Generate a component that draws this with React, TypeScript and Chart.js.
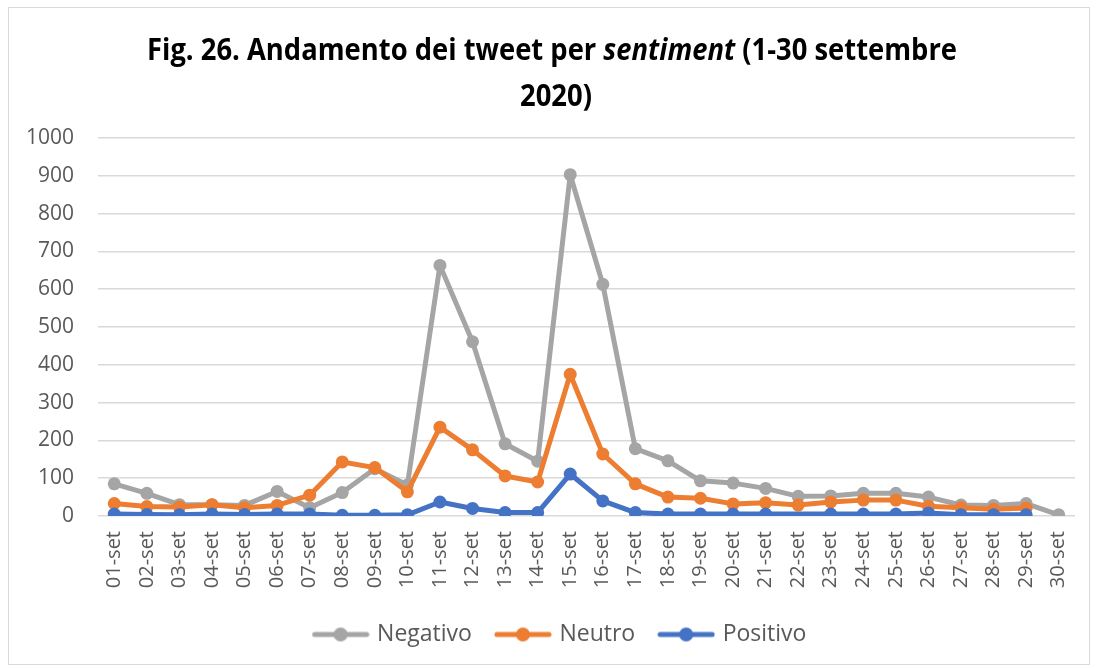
import React, { useEffect, useRef } from 'react';
import { Chart, registerables } from 'chart.js';

Chart.register(...registerables);

const categories = [
  '01-set', '02-set', '03-set', '04-set', '05-set', '06-set', '07-set', '08-set', '09-set', '10-set',
  '11-set', '12-set', '13-set', '14-set', '15-set', '16-set', '17-set', '18-set', '19-set', '20-set',
  '21-set', '22-set', '23-set', '24-set', '25-set', '26-set', '27-set', '28-set', '29-set', '30-set',
];

const negativo = [85, 60, 30, 30, 28, 65, 22, 62, 125, 82, 663, 461, 191, 145, 903, 613, 178, 146, 93, 87, 73, 52, 53, 60, 60, 50, 29, 28, 33, 3];
const neutro = [33, 25, 24, 30, 22, 28, 55, 143, 128, 64, 235, 175, 106, 90, 375, 164, 85, 50, 47, 32, 35, 29, 37, 42, 42, 26, 22, 18, 21, null];
const positivo = [5, 4, 3, 5, 4, 5, 5, 2, 2, 3, 37, 20, 9, 9, 111, 40, 9, 5, 5, 5, 5, null, 5, 5, 5, 8, 3, 3, 3, null];

const seriesNames = ['Negativo', 'Neutro', 'Positivo'];
const seriesColors = ['#A5A5A5', '#ED7D31', '#4472C4'];

const yTicks = { min: 0, max: 1000, step: 100 };

const FONT = "'Open Sans', 'Liberation Sans', sans-serif";
const TITLE_FONT = "'Liberation Sans Narrow', 'Open Sans', sans-serif";

function makeLegendIcon(color: string) {
  const c = document.createElement('canvas');
  c.width = 58;
  c.height = 16;
  const ctx = c.getContext('2d')!;
  ctx.strokeStyle = color;
  ctx.lineWidth = 5;
  ctx.lineCap = 'round';
  ctx.beginPath();
  ctx.moveTo(3, 8);
  ctx.lineTo(55, 8);
  ctx.stroke();
  ctx.fillStyle = color;
  ctx.beginPath();
  ctx.arc(29, 8, 7, 0, Math.PI * 2);
  ctx.fill();
  return c;
}

const legendShiftPlugin = {
  id: 'legendShift',
  afterLayout(chart: any) {
    if (chart.legend) {
      chart.legend.left += 19;
      chart.legend.right += 19;
    }
  },
};

const titlePlugin = {
  id: 'mixedTitle',
  afterDraw(chart: any) {
    const ctx = chart.ctx as CanvasRenderingContext2D;
    const size = 30;
    const bold = `bold ${size}px ${TITLE_FONT}`;
    const boldItalic = `italic bold ${size}px ${TITLE_FONT}`;
    const segs: [string, string][] = [
      ['Fig. 26. Andamento dei tweet per ', bold],
      ['sentiment', boldItalic],
      [' (1-30 settembre', bold],
    ];
    ctx.save();
    ctx.fillStyle = '#000000';
    ctx.textBaseline = 'alphabetic';
    ctx.textAlign = 'left';
    let total = 0;
    const widths = segs.map(([t, f]) => {
      ctx.font = f;
      const w = ctx.measureText(t).width;
      total += w;
      return w;
    });
    const s = Math.min(1, 810 / total);
    ctx.translate(543, 52);
    ctx.scale(s, 1);
    let x = -total / 2;
    segs.forEach(([t, f], i) => {
      ctx.font = f;
      ctx.fillText(t, x, 0);
      x += widths[i];
    });
    ctx.restore();
    ctx.save();
    ctx.fillStyle = '#000000';
    ctx.font = bold;
    ctx.textAlign = 'center';
    ctx.translate(547, 89);
    ctx.scale(s, 1);
    ctx.fillText('2020)', 0, 0);
    ctx.restore();
  },
};

export default function App() {
  const ref = useRef<HTMLCanvasElement>(null);

  useEffect(() => {
    if (!ref.current) return;
    const icons = seriesColors.map(makeLegendIcon);
    const allData = [negativo, neutro, positivo];
    const chart = new Chart(ref.current, {
      type: 'line',
      data: {
        labels: categories,
        datasets: seriesNames.map((name, i) => ({
          label: name,
          data: allData[i],
          borderColor: seriesColors[i],
          backgroundColor: seriesColors[i],
          pointBackgroundColor: seriesColors[i],
          pointBorderColor: seriesColors[i],
          borderWidth: 5,
          pointRadius: 6.5,
          pointBorderWidth: 0,
          pointHoverRadius: 6.5,
          borderJoinStyle: 'round',
          borderCapStyle: 'round',
          spanGaps: true,
          tension: 0,
          order: 3 - i,
        })),
      },
      options: {
        animation: false,
        responsive: false,
        devicePixelRatio: 1,
        layout: { padding: { top: 130, right: 14, left: 0, bottom: 8 } },
        plugins: {
          title: { display: false },
          tooltip: { enabled: false },
          legend: {
            position: 'bottom',
            labels: {
              usePointStyle: true,
              pointStyleWidth: 50,
              boxHeight: 16,
              padding: 26,
              color: '#595959',
              font: { family: FONT, size: 23 },
              generateLabels: (ch: any) =>
                ch.data.datasets.map((ds: any, i: number) => ({
                  text: ds.label,
                  fillStyle: seriesColors[i],
                  strokeStyle: seriesColors[i],
                  lineWidth: 0,
                  pointStyle: icons[i],
                  hidden: false,
                  datasetIndex: i,
                  fontColor: '#595959',
                })),
            },
          },
        },
        scales: {
          x: {
            offset: true,
            grid: { display: false, drawTicks: false },
            border: { display: false },
            ticks: {
              minRotation: 90,
              maxRotation: 90,
              autoSkip: false,
              padding: 15,
              color: '#595959',
              font: { family: FONT, size: 20 },
            },
            afterFit: (s: any) => {
              s.height = 81;
              s.paddingLeft = 0;
              s.paddingRight = 0;
            },
          },
          y: {
            min: yTicks.min,
            max: yTicks.max,
            ticks: {
              stepSize: yTicks.step,
              padding: 24,
              color: '#595959',
              font: { family: FONT, size: 21 },
              callback: (v: any) => String(v),
            },
            grid: { color: '#D9D9D9', lineWidth: 1.5, drawTicks: false },
            border: { display: false },
            afterFit: (s: any) => {
              s.width = 89;
            },
          },
        },
      },
      plugins: [titlePlugin, legendShiftPlugin],
    } as any);
    return () => chart.destroy();
  }, []);

  return (
    <div
      style={{
        position: 'fixed',
        left: 8,
        top: 7,
        width: 1080,
        height: 656,
        border: '1px solid #D9D9D9',
        background: '#ffffff',
      }}
    >
      <canvas ref={ref} width={1080} height={656} style={{ display: 'block' }} />
    </div>
  );
}
